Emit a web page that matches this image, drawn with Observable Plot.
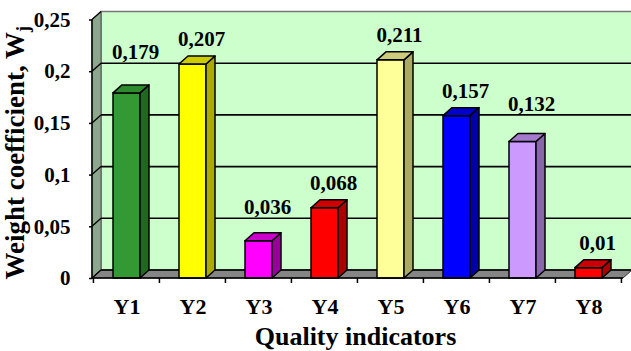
<!DOCTYPE html>
<html><head><meta charset="utf-8">
<script src="https://cdn.jsdelivr.net/npm/d3@7"></script>
<script src="https://cdn.jsdelivr.net/npm/@observablehq/plot@0.6"></script>
<style>
html,body{margin:0;padding:0;background:#fff;}
svg{display:block;}
svg text{font-family:"Liberation Serif","Times New Roman","DejaVu Serif",serif !important;}
</style>
</head><body><div id="chart"></div>
<script>
// ---- data ----
const categories = ["Y1", "Y2", "Y3", "Y4", "Y5", "Y6", "Y7", "Y8"];
const values = [0.179, 0.207, 0.036, 0.068, 0.211, 0.157, 0.132, 0.01];
const valueLabels = ["0,179", "0,207", "0,036", "0,068", "0,211", "0,157", "0,132", "0,01"];
const yTicks = [0, 0.05, 0.1, 0.15, 0.2, 0.25];
const yTickLabels = ["0", "0,05", "0,1", "0,15", "0,2", "0,25"];
const xTitle = "Quality indicators";
const yTitle = "Weight coefficient, W";
const yTitleSub = "j";

// ---- styles ----
const frontColors = ["#339933", "#ffff00", "#ff00ff", "#ff0000", "#ffff99", "#0000ff", "#cc99ff", "#ff0000"];
const topColors   = ["#2d8a2d", "#cccc00", "#cc00cc", "#cc0000", "#cccc7a", "#0000cc", "#a37acc", "#cc0000"];
const sideColors  = ["#226622", "#aaaa00", "#990099", "#aa0000", "#aaaa66", "#0000aa", "#8866aa", "#aa0000"];
const DX = 9, DY = 8; // 3D depth offset in pixels
const serif = "Liberation Serif, Times New Roman, DejaVu Serif, serif";

const data = categories.map((c, i) => ({cat: c, value: values[i], label: valueLabels[i], i}));

function walls(index, scales, vals, dims) {
  const y = scales.y;
  const x0 = dims.marginLeft, x1 = dims.width - dims.marginRight;
  const yb = y(0), yt = y(yTicks[yTicks.length - 1]);
  const g = d3.create("svg:g");
  g.append("rect").attr("x", x0 + DX).attr("y", yt - DY).attr("width", x1 - x0).attr("height", yb - yt)
    .attr("fill", "#ccffcc").attr("stroke", "#777").attr("stroke-width", 1.5);
  g.append("path").attr("d", `M${x0},${yb}L${x0},${yt}L${x0 + DX},${yt - DY}L${x0 + DX},${yb - DY}Z`)
    .attr("fill", "#8ca88c").attr("stroke", "#555").attr("stroke-width", 1);
  g.append("path").attr("d", `M${x0},${yb}L${x1},${yb}L${x1 + DX},${yb - DY}L${x0 + DX},${yb - DY}Z`)
    .attr("fill", "#858585").attr("stroke", "#333").attr("stroke-width", 1);
  for (const t of yTicks) {
    const yf = y(t);
    if (t > 0 && t < yTicks[yTicks.length - 1]) {
      g.append("line").attr("x1", x0 + DX).attr("x2", x1 + DX).attr("y1", yf - DY).attr("y2", yf - DY)
        .attr("stroke", "#000").attr("stroke-width", 1.6);
    }
    g.append("line").attr("x1", x0).attr("x2", x0 + DX).attr("y1", yf).attr("y2", yf - DY)
      .attr("stroke", "#000").attr("stroke-width", 1.4);
  }
  g.append("line").attr("x1", x0 + DX).attr("x2", x1 + DX).attr("y1", yb - DY).attr("y2", yb - DY)
    .attr("stroke", "#000").attr("stroke-width", 1.4);
  return g.node();
}

function faces(index, scales, vals, dims) {
  const x = scales.x, y = scales.y;
  const bw = x.bandwidth();
  const g = d3.create("svg:g").attr("stroke", "#000").attr("stroke-width", 1.5).attr("stroke-linejoin", "round");
  data.forEach(d => {
    const xa = x(d.cat), xb = xa + bw, yv = y(d.value), y0 = y(0);
    g.append("path").attr("d", `M${xb},${yv}L${xb + DX},${yv - DY}L${xb + DX},${y0 - DY}L${xb},${y0}Z`)
      .attr("fill", sideColors[d.i]);
    g.append("path").attr("d", `M${xa},${yv}L${xa + DX},${yv - DY}L${xb + DX},${yv - DY}L${xb},${yv}Z`)
      .attr("fill", topColors[d.i]);
  });
  return g.node();
}

function frame(index, scales, vals, dims) {
  const x = scales.x, y = scales.y;
  const x0 = dims.marginLeft, x1 = dims.width - dims.marginRight;
  const yb = y(0), yt = y(yTicks[yTicks.length - 1]);
  const g = d3.create("svg:g");
  g.append("line").attr("x1", x0).attr("x2", x0).attr("y1", yt).attr("y2", yb).attr("stroke", "#000").attr("stroke-width", 1.5);
  g.append("line").attr("x1", x0).attr("x2", x1).attr("y1", yb).attr("y2", yb).attr("stroke", "#000").attr("stroke-width", 1.5);
  const step = x.step();
  for (let k = 0; k <= categories.length; k++) {
    const xs = x(categories[0]) - x.paddingOuter() * step + k * step;
    g.append("line").attr("x1", xs).attr("x2", xs).attr("y1", yb).attr("y2", yb + 5).attr("stroke", "#000").attr("stroke-width", 1.5);
  }
  const bw = x.bandwidth();
  const gridBack = yTicks.map(t => y(t) - DY);
  data.forEach(d => {
    let b = y(d.value) - 17.5;
    for (const gy of gridBack) if (gy > b - 16 && gy < b + 3) b = gy - 4;
    g.append("text").attr("x", x(d.cat) + bw / 2 + DX).attr("y", b)
      .attr("text-anchor", "middle").attr("font-size", 21).attr("font-weight", "bold")
      .attr("fill", "#000").text(d.label);
  });
  g.append("text").attr("x", (x0 + x1) / 2 - 2).attr("y", dims.height - 6)
    .attr("text-anchor", "middle").attr("font-size", 26).attr("font-weight", "bold")
    .attr("fill", "#000").text(xTitle);
  const cy = (yt + yb) / 2 + 4;
  const t = g.append("text").attr("transform", `translate(24,${cy}) rotate(-90)`)
    .attr("text-anchor", "middle").attr("font-size", 27).attr("font-weight", "bold")
    .attr("fill", "#000");
  t.append("tspan").text(yTitle);
  t.append("tspan").attr("dy", 5).attr("font-size", 18).text(yTitleSub);
  return g.node();
}

const chart = Plot.plot({
  width: 631, height: 351,
  marginLeft: 92, marginRight: 8, marginTop: 19.5, marginBottom: 73,
  style: {fontFamily: serif, fontWeight: "bold", color: "#000", background: "#fff", overflow: "visible"},
  x: {type: "band", domain: categories, paddingInner: 0.593, paddingOuter: 0.2965},
  y: {domain: [0, 0.25]},
  color: {type: "identity"},
  marks: [
    walls,
    Plot.barY(data, {x: "cat", y: "value", fill: d => frontColors[d.i], stroke: "#000", strokeWidth: 1.5}),
    faces,
    Plot.axisY({ticks: yTicks, tickFormat: d => yTickLabels[yTicks.indexOf(d)], tickSize: 3, tickPadding: 19,
      fontSize: 21, strokeWidth: 1.5, label: null}),
    Plot.axisX({tickSize: 0, tickPadding: 20, fontSize: 22, label: null}),
    frame
  ]
});
document.getElementById("chart").appendChild(chart);
</script>
</body></html>
